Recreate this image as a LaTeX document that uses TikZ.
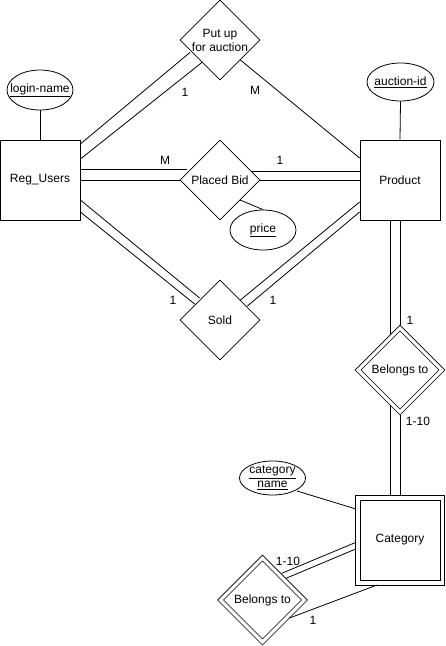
\documentclass[tikz,border=0pt]{standalone}
\usepackage{fontspec}
\setmainfont{Liberation Sans}
\usetikzlibrary{shapes.geometric,calc}
\begin{document}
\begin{tikzpicture}[x=1pt,y=-1pt,
  every node/.style={font=\fontsize{12}{14}\selectfont},
  ent/.style={draw, rectangle, minimum width=80pt, minimum height=80pt, inner sep=0pt, line width=0.8pt},
  rel/.style={draw, diamond, aspect=1, minimum width=80pt, minimum height=80pt, inner sep=0pt, line width=0.8pt},
  wrel/.style={rel, double, double distance=3.2pt, minimum width=84.3pt, minimum height=84.3pt},
  attr/.style={draw, ellipse, inner sep=0pt, line width=0.8pt},
  txt/.style={inner sep=0pt, align=center},
  lbl/.style={inner sep=0pt},
  conn/.style={line width=0.8pt}]
\useasboundingbox (0,0) rectangle (446,646);

% entities
\node[ent] (ru) at (40,180) {Reg\_Users};
\node[ent] (pr) at (400,180) {Product};
% weak entity: outer and inner frame
\node[ent, minimum width=89pt, minimum height=90pt] (ct) at (399.5,540) {};
\node[ent] (cti) at (400,540) {Category};

% relationships
\node[rel] (pu) at (220,40) {};
\node[txt] (put) at (220,40.5) {Put up\\for auction};
\node[rel] (pb) at (220,180) {Placed Bid};
\node[rel] (sd) at (220,320) {Sold};
\node[wrel] (bt) at (400,370) {Belongs to};
\node[wrel] (bb) at (262.5,600) {Belongs to};

% attributes
\node[attr, minimum width=66pt, minimum height=40pt] (ln) at (40,90) {};
\node[txt] (lnt) at (ln) {\underline{login-name}};
\node[attr, minimum width=67pt, minimum height=38pt] (ai) at (400.5,82) {};
\node[txt] (ait) at (ai) {\underline{auction-id}};
\node[attr, minimum width=66pt, minimum height=40pt] (pc) at (263,230) {};
\node[txt] (pct) at (pc) {\underline{price}};
\node[attr, minimum width=66pt, minimum height=34pt] (cn) at (272.5,478) {};
\node[txt] (cnt) at (cn) {\underline{category}\\\underline{name}};

% attribute links
\draw[conn] (ln.south) -- (ru.north);
\draw[conn] (ai.south) -- (pr.north);
\draw[conn] ($(pb.center)+(20,20)$) -- (pc.north);
\draw[conn] ($(cn.center)+(24.5,13)$) -- ($(cti.center)+(-44,-31)$);

% Reg_Users -- Put up for auction (double)
\draw[conn] ($(ru.east)+(0,-36)$) -- ($(pu.south)+(-30,-28)$);
\draw[conn] ($(ru.east)+(0,-21)$) -- ($(pu.south)+(-18,-18)$);
% Put up for auction -- Product
\draw[conn] ($(pu.east)+(-20,20)$) -- ($(pr.west)+(0,-22)$);

% Reg_Users -- Placed Bid -- Product
\draw[conn] ($(ru.east)+(0,-11)$) -- ($(pb.west)+(7,-11)$);
\draw[conn] (ru.east) -- (pb.west);
\draw[conn] ($(pb.east)+(-9,-9)$) -- ($(pr.west)+(0,-9)$);
\draw[conn] (pb.east) -- (pr.west);

% Reg_Users -- Sold -- Product (double)
\draw[conn] ($(ru.east)+(0,20)$) -- ($(sd.west)+(20,-22)$);
\draw[conn] ($(ru.east)+(0,32)$) -- ($(sd.west)+(15,-16)$);
\draw[conn] ($(pr.west)+(0,22)$) -- ($(sd.east)+(-20,-20)$);
\draw[conn] ($(pr.west)+(0,32)$) -- ($(sd.east)+(-13,-14)$);

% Product -- Belongs to -- Category (double)
\draw[conn] (pr.south) -- ($(bt.center)+(0,-45)$);
\draw[conn] ($(pr.south)+(-10,0)$) -- ($(bt.center)+(-10,-35)$);
\draw[conn] ($(bt.center)+(0,45)$) -- ($(cti.center)+(0,-45)$);
\draw[conn] ($(bt.center)+(-10,35)$) -- ($(cti.center)+(-10,-45)$);

% Category -- Belongs to (lower)
\draw[conn] ($(cti.center)+(-45,2.7)$) -- ($(bb.center)+(19.2,-26.7)$);
\draw[conn] ($(cti.center)+(-45,9.3)$) -- ($(bb.center)+(23.5,-21.7)$);
\draw[conn] ($(cti.center)+(-23,45)$) -- ($(bb.center)+(27,18)$);

% cardinalities
\node[lbl] (c1) at (185,92) {1};
\node[lbl] (c2) at (255,90) {M};
\node[lbl] (c3) at (165,160) {M};
\node[lbl] (c4) at (280,160) {1};
\node[lbl] (c5) at (173,300) {1};
\node[lbl] (c6) at (273,300) {1};
\node[lbl] (c7) at (410,320) {1};
\node[lbl] (c8) at (418,421) {1-10};
\node[lbl] (c9) at (288,561) {1-10};
\node[lbl] (c10) at (313,620) {1};
\end{tikzpicture}
\end{document}
